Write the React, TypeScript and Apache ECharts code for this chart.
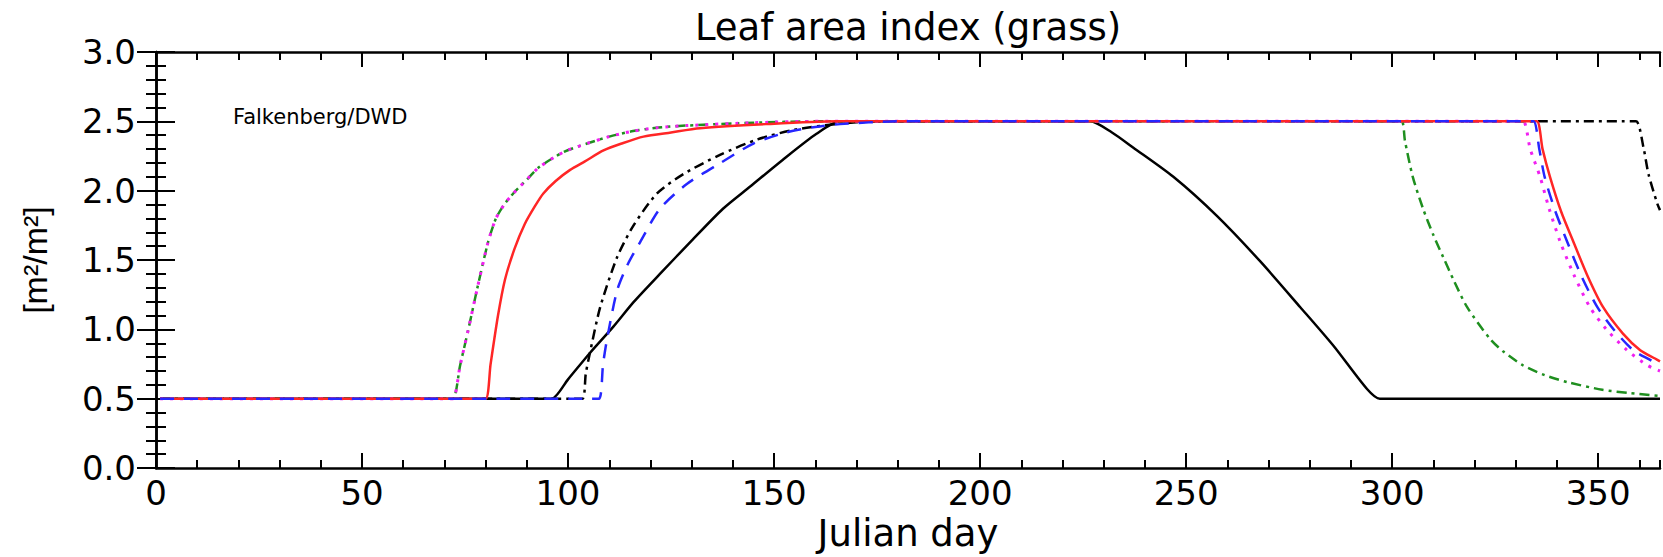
import React, { useEffect, useRef } from "react";
import * as echarts from "echarts";

// ---------- data ----------
const titleText = "Leaf area index (grass)";
const stationLabel = "Falkenberg/DWD";
const xAxisTitle = "Julian day";
const yAxisTitle = "[m²/m²]";

const xMin = 0;
const xMax = 365;
const xMajor = 50;
const xMinor = 10;
const yMin = 0;
const yMax = 3;
const yMajor = 0.5;

// black solid
const blackSolid: [number, number][] = [
  [1, 0.5], [93, 0.5], [96, 0.5], [100, 0.64], [105.3, 0.83], [111, 1.02],
  [116, 1.2], [122.3, 1.4], [130, 1.64], [137.6, 1.87], [144.2, 2.03],
  [152, 2.22], [160.3, 2.41], [166, 2.5], [169, 2.5], [224, 2.5],
  [226.7, 2.5], [232, 2.42], [237.2, 2.31], [246.9, 2.1], [257.4, 1.82],
  [268, 1.49], [277.7, 1.16], [285.8, 0.88], [293.9, 0.57], [297, 0.5],
  [300, 0.5], [365, 0.5],
];

// black dash-dot
const blackDashDot: [number, number][] = [
  [1, 0.5], [100.5, 0.5], [103.5, 0.5], [104.3, 0.68], [105.3, 0.83],
  [107.8, 1.16], [111.9, 1.52], [115.9, 1.75], [121.6, 1.98], [128, 2.12],
  [137, 2.26], [146, 2.37], [155, 2.44], [165, 2.48], [175, 2.5],
  [178, 2.5], [356, 2.5], [359.2, 2.5], [361, 2.31], [362.2, 2.12],
  [364.3, 1.91], [365, 1.86],
];

// magenta dotted / green dash-dot share the same spring rise
const earlyRise: [number, number][] = [
  [1, 0.5], [69, 0.5], [72, 0.5], [73.8, 0.74], [75.8, 1.0], [78, 1.3],
  [80.6, 1.63], [82.5, 1.8], [84.5, 1.9], [86.7, 1.98], [90, 2.08],
  [93, 2.17], [99, 2.28], [104.6, 2.34], [110, 2.39], [115.8, 2.43],
  [122, 2.455], [129, 2.47], [145, 2.49], [160, 2.5], [163, 2.5],
];
const magentaFall: [number, number][] = [
  [329, 2.5], [331.8, 2.5], [333.5, 2.3], [335.9, 2.1], [338, 1.88],
  [340.8, 1.63], [344, 1.4], [348, 1.16], [352, 1.0], [357, 0.85],
  [362, 0.74], [365, 0.7],
];
const greenFall: [number, number][] = [
  [299.5, 2.5], [302.3, 2.5], [303.1, 2.36], [305, 2.1], [307.5, 1.87],
  [310, 1.68], [312.4, 1.52], [315, 1.35], [318.2, 1.16], [323.8, 0.93],
  [327, 0.84], [331.8, 0.74], [337, 0.67], [342.5, 0.62], [351, 0.565],
  [358, 0.54], [365, 0.52],
];

// red solid
const redSolid: [number, number][] = [
  [1, 0.5], [77, 0.5], [80, 0.5], [81.2, 0.75], [83, 1.1], [84.7, 1.36],
  [87, 1.58], [89.5, 1.76], [92, 1.89], [94, 1.98], [97, 2.07],
  [100.5, 2.15], [104, 2.21], [108.6, 2.29], [113, 2.34], [118.3, 2.39],
  [125, 2.42], [132, 2.45], [148, 2.48], [165, 2.5], [168, 2.5],
  [332, 2.5], [335.1, 2.5], [336.5, 2.3], [338.3, 2.1], [341, 1.85],
  [344, 1.63], [347.5, 1.38], [351.2, 1.16], [356, 0.97], [360.2, 0.85],
  [363.8, 0.79], [365, 0.77],
];

// blue dashed
const blueDashed: [number, number][] = [
  [1, 0.5], [104.5, 0.5], [107.5, 0.5], [108.5, 0.75], [109.4, 0.92],
  [111.9, 1.28], [114.5, 1.47], [117.5, 1.63], [122.3, 1.87], [128.9, 2.05],
  [137, 2.2], [145, 2.34], [153, 2.42], [160, 2.46], [166, 2.48],
  [180, 2.5], [183, 2.5], [331.5, 2.5], [334.3, 2.5], [335.7, 2.3],
  [337, 2.1], [339.5, 1.86], [342.5, 1.63], [346, 1.38], [349.8, 1.16],
  [354, 0.99], [358.5, 0.85], [362.6, 0.78], [365, 0.74],
];

const greenDashDot: [number, number][] = [...earlyRise, ...greenFall];
const magentaDotted: [number, number][] = [...earlyRise, ...magentaFall];

// ---------- styling ----------
const FONT = '"DejaVu Sans", sans-serif';
const FONT2 = '"Liberation Sans", Arial, sans-serif';
const AX = "#000";

export default function App() {
  const ref = useRef<HTMLDivElement>(null);

  useEffect(() => {
    if (!ref.current) return;
    const chart = echarts.init(ref.current, undefined, { renderer: "svg" });

    const xCommon = {
      type: "value" as const,
      min: xMin,
      max: xMax,
      gridIndex: 0,
      splitLine: { show: false },
    };
    const yCommon = {
      type: "value" as const,
      min: yMin,
      max: yMax,
      interval: yMajor,
      gridIndex: 0,
      splitLine: { show: false },
      minorTick: { show: true, splitNumber: 5, length: 10, lineStyle: { color: AX, width: 2 } },
      axisTick: { show: true, inside: true, length: 19, lineStyle: { color: AX, width: 2 } },
      axisLine: { show: true, lineStyle: { color: AX, width: 2.5 } },
    };

    const lineSeries = (
      name: string,
      data: [number, number][],
      color: string,
      type: any,
      width: number,
      z: number
    ) => ({
      name,
      type: "line",
      data,
      xAxisIndex: 0,
      yAxisIndex: 0,
      showSymbol: false,
      symbol: "none",
      smooth: 0.25,
      z,
      lineStyle: { color, width, type, cap: "butt", join: "round" },
      silent: true,
    });

    chart.setOption({
      animation: false,
      backgroundColor: "#fff",
      grid: { left: 156, top: 52, width: 1504, height: 426, containLabel: false },
      xAxis: [
        {
          ...xCommon,
          position: "bottom",
          interval: xMajor,
          axisLine: { show: true, lineStyle: { color: AX, width: 2.5 } },
          axisTick: { show: true, inside: true, length: 15, lineStyle: { color: AX, width: 2 } },
          axisLabel: {
            show: true,
            margin: 8,
            color: "#000",
            fontFamily: FONT,
            fontSize: 34,
            showMaxLabel: false,
            formatter: (v: number) => (v % xMajor === 0 ? String(v) : ""),
          },
          name: xAxisTitle,
          nameLocation: "middle",
          nameGap: 45,
          nameTextStyle: { color: "#000", fontFamily: FONT, fontSize: 37 },
        },
        {
          ...xCommon,
          position: "bottom",
          interval: xMinor,
          axisLine: { show: false },
          axisTick: { show: true, inside: true, length: 8, lineStyle: { color: AX, width: 2 } },
          axisLabel: { show: false },
        },
        {
          ...xCommon,
          position: "top",
          interval: xMajor,
          axisLine: { show: true, lineStyle: { color: AX, width: 2.5 } },
          axisTick: { show: true, inside: true, length: 15, lineStyle: { color: AX, width: 2 } },
          axisLabel: { show: false },
        },
        {
          ...xCommon,
          position: "top",
          interval: xMinor,
          axisLine: { show: false },
          axisTick: { show: true, inside: true, length: 8, lineStyle: { color: AX, width: 2 } },
          axisLabel: { show: false },
        },
      ],
      yAxis: [
        {
          ...yCommon,
          position: "left",
          axisLabel: {
            show: true,
            margin: 20,
            color: "#000",
            fontFamily: FONT,
            fontSize: 34,
            formatter: (v: number) => v.toFixed(1),
          },
          name: yAxisTitle,
          nameLocation: "middle",
          nameRotate: 90,
          nameGap: 104,
          nameTextStyle: { color: "#000", fontFamily: FONT2, fontSize: 34 },
        },
        {
          ...yCommon,
          position: "right",
          axisLabel: { show: false },
        },
      ],
      graphic: [
        {
          type: "text",
          x: 908,
          y: 27,
          silent: true,
          style: {
            text: titleText,
            fill: "#000",
            fontFamily: FONT,
            fontSize: 37,
            align: "center",
            verticalAlign: "middle",
            textAlign: "center",
            textVerticalAlign: "middle",
          },
        },
        {
          type: "text",
          x: 233,
          y: 117,
          silent: true,
          style: {
            text: stationLabel,
            fill: "#000",
            fontFamily: FONT,
            fontSize: 21,
            align: "left",
            verticalAlign: "middle",
            textAlign: "left",
            textVerticalAlign: "middle",
          },
        },
      ],
      series: [
        lineSeries("black solid", blackSolid, "#000000", "solid", 2.5, 2),
        lineSeries("black dash-dot", blackDashDot, "#000000", [10, 5, 3, 5], 2.5, 3),
        lineSeries("green dash-dot", greenDashDot, "#1f8f1f", [10, 5, 3, 5], 2.5, 4),
        lineSeries("magenta dotted", magentaDotted, "#f020f0", [3, 7], 3, 5),
        lineSeries("red solid", redSolid, "#ff2626", "solid", 2.5, 6),
        lineSeries("blue dashed", blueDashed, "#2626ff", [14, 10], 2.5, 7),
      ],
    });

    return () => chart.dispose();
  }, []);

  return (
    <div
      ref={ref}
      style={{ position: "absolute", left: 0, top: 0, width: 1663, height: 557 }}
    />
  );
}
